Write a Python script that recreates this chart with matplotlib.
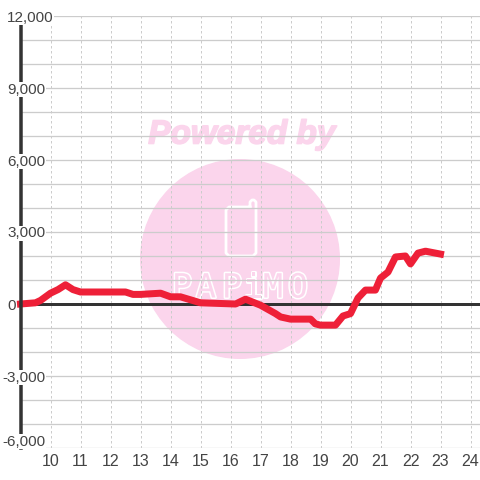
import matplotlib
matplotlib.use('Agg')
import matplotlib.pyplot as plt
import matplotlib.patheffects as pe
from matplotlib.patches import Circle

plt.rcParams['font.family'] = ['Liberation Sans', 'DejaVu Sans']

# hours of the day and the value
hours = [9.0, 9.5, 9.67, 10.0, 10.25, 10.5, 10.75, 11.0, 12.0, 12.5, 12.75, 13.0, 13.67,
         14.0, 14.33, 15.0, 16.17, 16.5, 17.0, 17.5, 17.67, 18.0, 18.67, 18.83, 19.0, 19.5,
         19.75, 20.0, 20.25, 20.5, 20.83, 21.0, 21.25, 21.5, 21.83, 22.0, 22.25, 22.5, 23.0]
values = [0, 50, 150, 450, 600, 800, 600, 500, 500, 500, 400, 400, 450,
          300, 300, 50, 0, 200, -50, -400, -540, -630, -630, -830, -880, -880,
          -500, -400, 250, 580, 580, 1080, 1330, 1960, 2000, 1670, 2120, 2200, 2080]

x_ticks = list(range(10, 25))
y_grid = list(range(-6000, 13000, 1000))
y_labels = [12000, 9000, 6000, 3000, 0, -3000, -6000]

LINE_RED = '#ee2038'
DARK = '#333333'
GRID = '#cccccc'
TEXT = '#444444'
PINK = '#fbd5ec'
PX = 72 / 100  # points per pixel at dpi 100

fig = plt.figure(figsize=(4.8, 4.8), dpi=100)

# watermark sits behind the chart, drawn in pixel coordinates
bg = fig.add_axes([0, 0, 1, 1], zorder=0)
bg.set_xlim(0, 480)
bg.set_ylim(480, 0)
bg.axis('off')
bg.add_patch(Circle((240, 259), 100, fc=PINK, ec='none'))
bg.text(242, 135, 'Powered by', color=PINK, fontsize=24, fontweight='bold', fontstyle='italic',
        ha='center', va='center', path_effects=[pe.withStroke(linewidth=1.2, foreground=PINK)])
# phone outline with its antenna on the top right corner
phone_x = [250, 229, 226, 226, 229, 253, 256, 256, 254, 252, 250, 250]
phone_y = [207, 207, 210, 253, 256, 256, 253, 202, 200, 200, 202, 207]
bg.plot(phone_x, phone_y, color='white', lw=2.8 * PX, solid_joinstyle='round')
for letter, px in zip('PAPiMO', [182, 206, 232, 253, 273, 298]):
    bg.text(px, 288, letter, color=PINK, fontsize=24, ha='center', va='center', family='DejaVu Sans Mono',
            path_effects=[pe.withStroke(linewidth=2.2, foreground='white')])

ax = fig.add_axes([20.5 / 480, 32 / 480, 459.5 / 480, 432 / 480], zorder=1)
ax.patch.set_visible(False)
ax.set_xlim(9, 9 + 459.5 / 30)
ax.set_ylim(-6000, 12000)

for side in ['top', 'right', 'bottom']:
    ax.spines[side].set_visible(False)
ax.spines['left'].set_color(DARK)
ax.spines['left'].set_linewidth(3.5 * PX)

ax.set_xticks(x_ticks)
ax.set_yticks(y_grid)
ax.set_yticklabels([])
ax.tick_params(axis='y', length=0)
ax.tick_params(axis='x', length=0, pad=4, labelsize=11.5, labelcolor=TEXT)
ax.grid(axis='y', color=GRID, lw=1.3 * PX, zorder=1)
ax.grid(axis='x', color=GRID, lw=1 * PX, linestyle=(0, (2.5, 2.5)), zorder=1)
ax.set_axisbelow(True)

ax.axhline(0, color=DARK, lw=3 * PX, zorder=2)
ax.plot(hours, values, color=LINE_RED, lw=7 * PX, solid_capstyle='projecting',
        solid_joinstyle='round', zorder=2.2, clip_on=False)

for val in y_labels:
    label = f'{val:,}'
    # labels start at the same x, the minus sign hangs out to the left
    x_px = 2 if val < 0 else 7
    # bottom label is lifted so it does not run past the plot area
    offset = 6.5 if val == -6000 else -1.5
    ax.annotate(label, xy=(0, val), xycoords=('axes fraction', 'data'),
                xytext=((x_px - 20.5) * PX, offset * PX), textcoords='offset points',
                ha='left', va='center', fontsize=11, color=TEXT, annotation_clip=False, zorder=3,
                bbox=dict(fc='white', ec='none', pad=0.6))

fig.savefig('out.png', dpi=100)
